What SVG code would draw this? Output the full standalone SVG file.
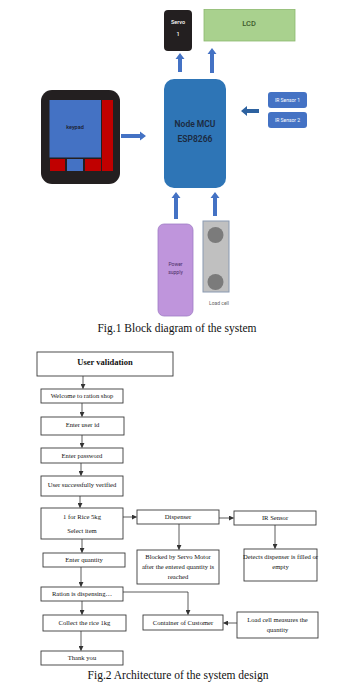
<svg xmlns="http://www.w3.org/2000/svg" width="351" height="687" viewBox="0 0 351 687">
<style>
.sans{font-family:Roboto,"Liberation Sans",sans-serif;text-anchor:middle}
.serif{font-family:"Liberation Serif","Times New Roman",serif;text-anchor:middle;fill:#111}
.fc{font-size:6.6px}
.box{fill:#fff;stroke:#3a3a3a;stroke-width:0.9}
.ln{fill:none;stroke:#333;stroke-width:0.8}
.blk{fill:#4472c4}
</style>
<defs>
<marker id="ah" viewBox="0 0 6 6" refX="5.5" refY="3" markerWidth="5" markerHeight="5" markerUnits="userSpaceOnUse" orient="auto">
<path d="M0,0 L6,3 L0,6 z" fill="#333"/>
</marker>
</defs>
<rect width="351" height="687" fill="#fff"/>

<!-- Fig 1 nodes -->
<g id="servo">
<rect x="164" y="10" width="28" height="41" rx="4" fill="#231f20"/>
<text class="sans" x="178" y="24" font-size="5.5" font-weight="500" fill="#fff">Servo</text>
<text class="sans" x="178" y="36" font-size="5.5" font-weight="500" fill="#fff">1</text>
</g>
<g id="lcd">
<rect x="204" y="9.5" width="91" height="31.5" fill="#a9d18e" stroke="#8cb86e" stroke-width="0.8"/>
<text class="sans" x="249" y="26" font-size="7.5" font-weight="500" fill="#3d5a2c">LCD</text>
</g>
<g id="nodemcu">
<rect x="164" y="79" width="62" height="109" rx="10" fill="#2e75b6"/>
<text class="sans" x="195" y="127" font-size="8.5" font-weight="600" fill="#1c2a40">Node MCU</text>
<text class="sans" x="195" y="142" font-size="8.5" font-weight="600" fill="#1c2a40">ESP8266</text>
</g>
<g id="keypad">
<rect x="41" y="90" width="79" height="94" rx="11" fill="#231f20"/>
<rect x="49.5" y="100" width="51.5" height="57.5" fill="#4472c4"/>
<rect x="102" y="100" width="11" height="71" fill="#c00000"/>
<rect x="50" y="159" width="15" height="12" fill="#c00000"/>
<rect x="67" y="159" width="16" height="12" fill="#4472c4"/>
<rect x="85" y="159" width="16" height="12" fill="#c00000"/>
<text class="sans" x="75" y="129" font-size="5.5" font-weight="500" fill="#1a1a2a">keypad</text>
</g>
<g id="irsensors">
<rect x="268" y="92" width="39" height="16" rx="3" fill="#4472c4"/>
<text class="sans" x="287.5" y="102" font-size="5" fill="#fff">IR Sensor 1</text>
<rect x="268" y="112" width="39" height="16" rx="3" fill="#4472c4"/>
<text class="sans" x="287.5" y="122" font-size="5" fill="#fff">IR Sensor 2</text>
</g>
<g id="power">
<rect x="158" y="224" width="35" height="92" rx="6" fill="#bf95dc" stroke="#a07cc4" stroke-width="0.8"/>
<text class="sans" x="175.5" y="266" font-size="5" fill="#4a2d66">Power</text>
<text class="sans" x="175.5" y="273.5" font-size="5" fill="#4a2d66">supply</text>
</g>
<g id="loadcell">
<rect x="203" y="221" width="26" height="71" fill="#c0c0c0" stroke="#8a9ab2" stroke-width="1"/>
<circle cx="215.5" cy="235" r="8" fill="#7b7b7b"/>
<circle cx="215.5" cy="282" r="8" fill="#7b7b7b"/>
<text class="sans" x="219" y="305" font-size="5" fill="#666">Load cell</text>
</g>
<g id="fig1-arrows">
<polygon class="blk" points="178,72 182,72 182,59 184.5,59 180,53 175.5,59 178,59"/>
<polygon class="blk" points="210,73 214,73 214,54 216.5,54 212,48 207.5,54 210,54"/>
<polygon class="blk" points="174,219 178,219 178,198 180.5,198 176,192 171.5,198 174,198"/>
<polygon class="blk" points="213,216 217,216 217,198 219.5,198 215,192 210.5,198 213,198"/>
<polygon class="blk" points="121,134 140,134 140,131.5 146,136 140,140.5 140,138 121,138"/>
<polygon fill="#2d62a0" points="259,109 247,109 247,106 241,111 247,116 247,113 259,113"/>
</g>
<text class="serif" x="177" y="332" font-size="11.5">Fig.1 Block diagram of the system</text>

<!-- Fig 2 connectors -->
<g id="connectors">
<line class="ln" x1="83" y1="376" x2="83" y2="388.5" marker-end="url(#ah)"/>
<line class="ln" x1="82" y1="403" x2="82" y2="416.5" marker-end="url(#ah)"/>
<line class="ln" x1="82" y1="435" x2="82" y2="447.5" marker-end="url(#ah)"/>
<line class="ln" x1="81" y1="463" x2="81" y2="475.5" marker-end="url(#ah)"/>
<line class="ln" x1="80" y1="496" x2="80" y2="507.5" marker-end="url(#ah)"/>
<line class="ln" x1="123" y1="517" x2="136.5" y2="517" marker-end="url(#ah)"/>
<line class="ln" x1="219" y1="518" x2="233.5" y2="518" marker-end="url(#ah)"/>
<line class="ln" x1="179" y1="524" x2="179" y2="549.5" marker-end="url(#ah)"/>
<line class="ln" x1="275" y1="525" x2="275" y2="548.5" marker-end="url(#ah)"/>
<line class="ln" x1="82" y1="539" x2="82" y2="552.5" marker-end="url(#ah)"/>
<line class="ln" x1="81" y1="567" x2="81" y2="586.5" marker-end="url(#ah)"/>
<polyline class="ln" points="123,592 188,592 188,614.5" marker-end="url(#ah)"/>
<line class="ln" x1="82" y1="601" x2="82" y2="614.5" marker-end="url(#ah)"/>
<line class="ln" x1="237" y1="623" x2="223.5" y2="623" marker-end="url(#ah)"/>
<line class="ln" x1="81" y1="631" x2="81" y2="650.5" marker-end="url(#ah)"/>
</g>

<!-- Fig 2 nodes -->
<g id="uservalidation">
<rect class="box" x="37" y="352" width="136" height="24"/>
<text class="serif" x="105" y="364.5" font-size="8.5" font-weight="bold">User validation</text>
</g>
<g id="welcome">
<rect class="box" x="41" y="389" width="82" height="14"/>
<text class="serif fc" x="82" y="398.3">Welcome to ration shop</text>
</g>
<g id="userid">
<rect class="box" x="41" y="417" width="83" height="18"/>
<text class="serif fc" x="82.5" y="426.5">Enter user id</text>
</g>
<g id="password">
<rect class="box" x="41" y="448" width="82" height="15"/>
<text class="serif fc" x="82" y="457.5">Enter password</text>
</g>
<g id="verified">
<rect class="box" x="41" y="476" width="82" height="20"/>
<text class="serif fc" x="82" y="486.5">User successfully verified</text>
</g>
<g id="selectitem">
<rect class="box" x="41" y="508" width="82" height="31"/>
<text class="serif fc" x="82" y="518.5">1 for Rice 5kg</text>
<text class="serif fc" x="82" y="533">Select item</text>
</g>
<g id="dispenser">
<rect class="box" x="137" y="510" width="82" height="14"/>
<text class="serif fc" x="178" y="519">Dispenser</text>
</g>
<g id="irsensor">
<rect class="box" x="234" y="511" width="82" height="14"/>
<text class="serif fc" x="275" y="520">IR Sensor</text>
</g>
<g id="blocked">
<rect class="box" x="137" y="550" width="82" height="34"/>
<text class="serif fc" x="178" y="559">Blocked by Servo Motor</text>
<text class="serif fc" x="178" y="569">after the entered quantity is</text>
<text class="serif fc" x="178" y="579">reached</text>
</g>
<g id="detects">
<rect class="box" x="244" y="549" width="73" height="32"/>
<text class="serif fc" x="280.5" y="559">Detects dispenser is filled or</text>
<text class="serif fc" x="280.5" y="569">empty</text>
</g>
<g id="quantity">
<rect class="box" x="43" y="553" width="82" height="14"/>
<text class="serif fc" x="84" y="562">Enter quantity</text>
</g>
<g id="dispensing">
<rect class="box" x="41" y="587" width="82" height="14"/>
<text class="serif fc" x="82" y="596">Ration is dispensing…</text>
</g>
<g id="collect">
<rect class="box" x="43" y="615" width="83" height="16"/>
<text class="serif fc" x="84.5" y="625">Collect the rice 1kg</text>
</g>
<g id="container">
<rect class="box" x="143" y="615" width="80" height="15"/>
<text class="serif fc" x="183" y="624.5">Container of Customer</text>
</g>
<g id="loadcellmeasure">
<rect class="box" x="237" y="612" width="81" height="26"/>
<text class="serif fc" x="277.5" y="621.5">Load cell measures the</text>
<text class="serif fc" x="277.5" y="631.5">quantity</text>
</g>
<g id="thankyou">
<rect class="box" x="41" y="651" width="82" height="14"/>
<text class="serif fc" x="82" y="660">Thank you</text>
</g>
<text class="serif" x="178" y="679" font-size="11.5">Fig.2 Architecture of the system design</text>
</svg>
